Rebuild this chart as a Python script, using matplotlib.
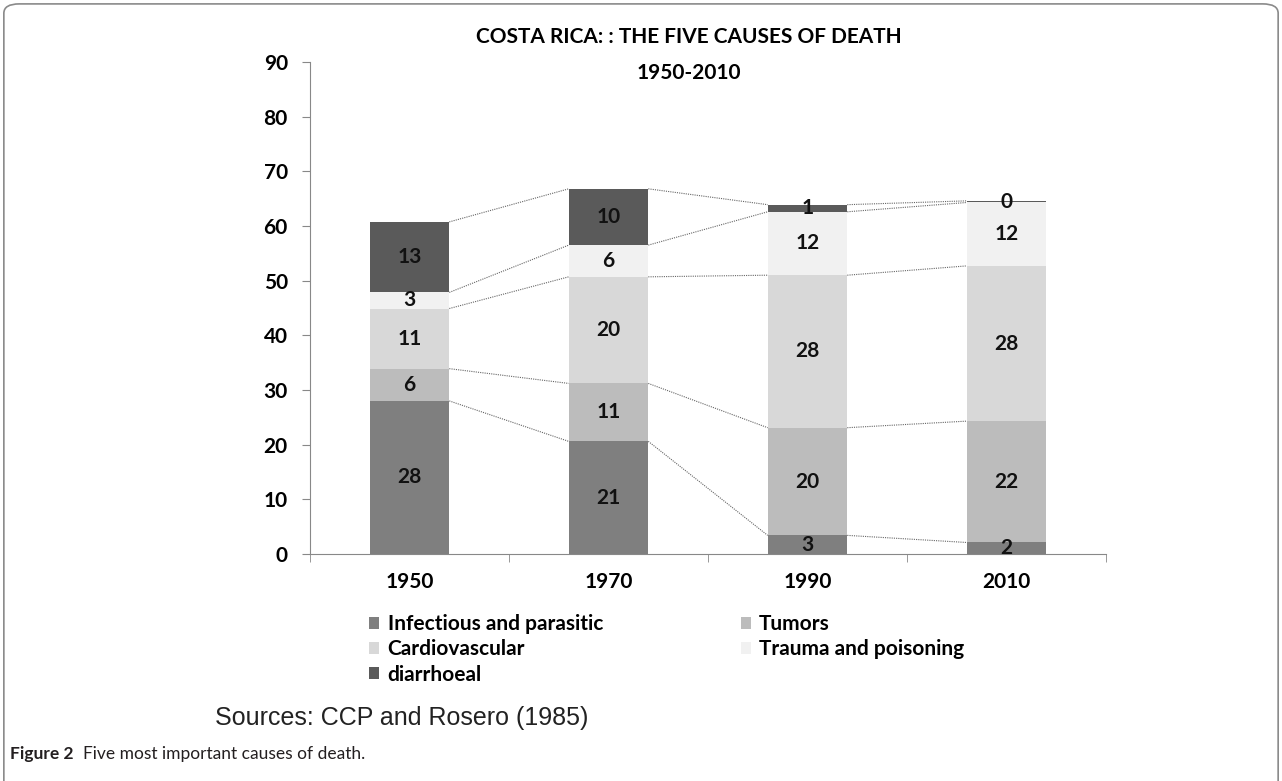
import numpy as np
import matplotlib.pyplot as plt
from matplotlib.patches import FancyBboxPatch

years = ["1950", "1970", "1990", "2010"]
causes = ["Infectious and parasitic", "Tumors", "Cardiovascular",
          "Trauma and poisoning", "diarrhoeal"]
infectious = [28.0, 20.6, 3.4, 2.1]
tumors = [5.9, 10.6, 19.7, 22.2]
cardio = [11.0, 19.5, 27.9, 28.4]
trauma = [2.95, 5.8, 11.6, 11.6]
diarrhoeal = [12.9, 10.3, 1.3, 0.3]
labels = [[28, 21, 3, 2], [6, 11, 20, 22], [11, 20, 28, 28],
          [3, 6, 12, 12], [13, 10, 1, 0]]
colors = ["#7f7f7f", "#bcbcbc", "#d8d8d8", "#f1f1f1", "#5a5a5a"]

plt.rcParams['font.family'] = ['Lato', 'DejaVu Sans']
fs = 15

fig = plt.figure(figsize=(12.82, 7.81), dpi=100)
ax = fig.add_axes([0.2418, 0.2907, 0.6209, 0.6299])

series = [infectious, tumors, cardio, trauma, diarrhoeal]
x = np.arange(len(years))
w = 0.4
bottom = np.zeros(len(years))
bars = []
for i, vals in enumerate(series):
    vals = np.array(vals)
    b = ax.bar(x, vals, w, bottom=bottom, color=colors[i], label=causes[i], zorder=2)
    bars.append(b)
    for j in range(len(years)):
        ax.text(x[j], bottom[j] + vals[j] / 2, str(labels[i][j]), ha='center', va='center',
                fontsize=fs, fontweight='bold', color='#111111', zorder=4)
    top = bottom + vals
    # series lines between bars
    for j in range(len(years) - 1):
        ax.plot([x[j] + w / 2, x[j + 1] - w / 2], [top[j], top[j + 1]],
                color='#666666', lw=0.8, ls=(0, (1, 1)), zorder=1)
    bottom = top

ax.set_xlim(-0.5, 3.5)
ax.set_ylim(0, 90)
ax.set_yticks(np.arange(0, 91, 10))
ax.set_xticks(x)
ax.set_xticklabels(years)
ax.set_xticks(np.arange(-0.5, 3.6, 1), minor=True)
ax.tick_params(axis='x', which='major', length=0, pad=13, labelsize=fs)
ax.tick_params(axis='x', which='minor', length=6, color='#888888')
ax.tick_params(axis='y', length=6, color='#888888', pad=10, labelsize=fs)
for lab in ax.get_xticklabels() + ax.get_yticklabels():
    lab.set_fontweight('bold')
for s in ['top', 'right']:
    ax.spines[s].set_visible(False)
for s in ['left', 'bottom']:
    ax.spines[s].set_color('#888888')

order = [0, 2, 4, 1, 3]
handles = [bars[k] for k in order]
fig.legend(handles, [causes[k] for k in order], ncol=2, frameon=False,
           loc='upper left', bbox_to_anchor=(0.2800, 0.227),
           prop={'weight': 'bold', 'size': fs}, handlelength=0.48, handleheight=0.48,
           handletextpad=0.4, columnspacing=6.6, labelspacing=0.25, borderpad=0)

fig.text(0.5374, 0.953, "COSTA RICA: : THE FIVE CAUSES OF DEATH",
         ha='center', va='center', fontsize=fs, fontweight='bold')
fig.text(0.5374, 0.907, "1950-2010",
         ha='center', va='center', fontsize=fs, fontweight='bold')

fig.text(0.168, 0.081, "Sources: CCP and Rosero (1985)", fontsize=18,
         family='Liberation Sans', va='center', color='#222222')
fig.text(0.0078, 0.034, "Figure 2", fontsize=12.5, fontweight='bold', va='center',
         color='#231f20')
fig.text(0.065, 0.034, "Five most important causes of death.", fontsize=12.5,
         va='center', color='#231f20')

border = FancyBboxPatch((0.003, -0.02), 0.994, 1.015, boxstyle="round,pad=0,rounding_size=0.012",
                        transform=fig.transFigure, fill=False, ec='#8a8a8a', lw=1.2)
fig.patches.append(border)

fig.savefig("out.png", dpi=100)
